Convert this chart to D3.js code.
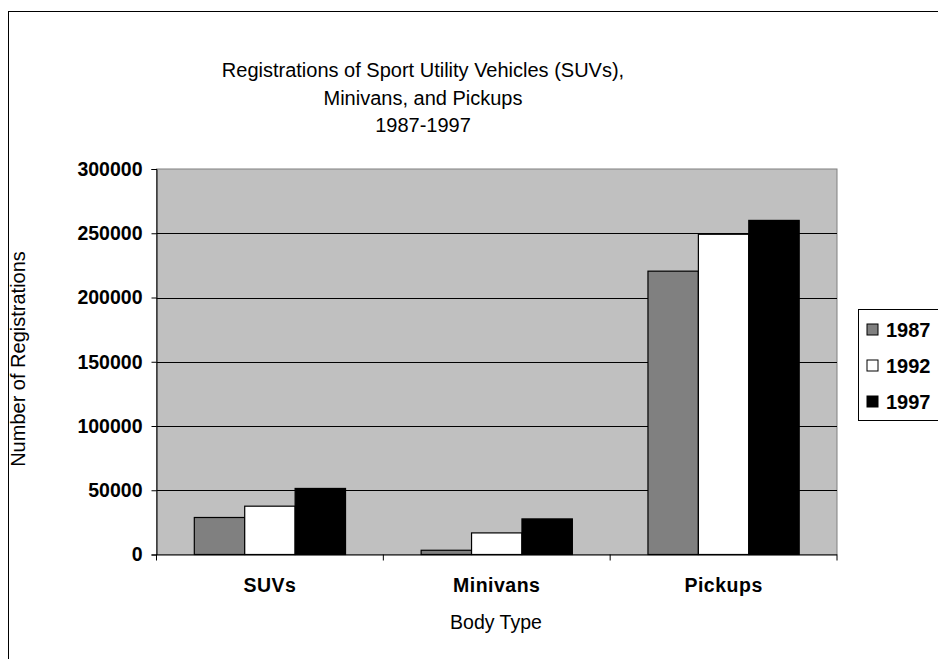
<!DOCTYPE html>
<html>
<head>
<meta charset="utf-8">
<script src="https://cdn.jsdelivr.net/npm/d3@7"></script>
<style>
  body { margin: 0; background: #fff; }
  svg { display: block; font-family: Arial, "Liberation Sans", sans-serif; }
</style>
</head>
<body>
<div id="chart"></div>
<script>
(function () {
  'use strict';

  // data:
  var categories = ["SUVs", "Minivans", "Pickups"];
  var years = ["1987", "1992", "1997"];
  var values1987 = [28800, 3300, 220500];
  var values1992 = [37600, 16800, 249200];
  var values1997 = [51400, 27700, 260000];
  var yTicks = [0, 50000, 100000, 150000, 200000, 250000, 300000];
  var titleLines = [
    "Registrations of Sport Utility Vehicles (SUVs),",
    "Minivans, and Pickups",
    "1987-1997"
  ];

  var series = [
    { year: years[0], values: values1987, color: "#808080" },
    { year: years[1], values: values1992, color: "#ffffff" },
    { year: years[2], values: values1997, color: "#000000" }
  ];

  var width = 938, height = 659;
  var plot = { left: 156.5, top: 169, right: 837, bottom: 554.5 };

  var svg = d3.select("#chart").append("svg")
    .attr("width", width)
    .attr("height", height);

  // outer chart border (runs past the right/bottom edge):
  svg.append("rect")
    .attr("x", 8.5).attr("y", 11.5)
    .attr("width", 960).attr("height", 700)
    .attr("fill", "#fff")
    .attr("stroke", "#000").attr("stroke-width", 1);

  // title:
  svg.append("g").selectAll("text")
    .data(titleLines)
    .join("text")
    .attr("x", 423)
    .attr("y", function (d, i) { return 77 + i * 27.5; })
    .attr("text-anchor", "middle")
    .style("font-size", "20px")
    .text(function (d) { return d; });

  // scales:
  var x0 = d3.scaleBand()
    .domain(categories)
    .range([plot.left, plot.right])
    .paddingInner(0).paddingOuter(0);
  var barW = x0.bandwidth() / 4.5;
  var x1 = d3.scaleBand()
    .domain(years)
    .range([barW * 0.75, barW * 3.75]);
  var y = d3.scaleLinear()
    .domain([0, 300000])
    .range([plot.bottom, plot.top]);

  // plot area:
  svg.append("rect")
    .attr("x", plot.left).attr("y", plot.top)
    .attr("width", plot.right - plot.left)
    .attr("height", plot.bottom - plot.top)
    .attr("fill", "#c0c0c0")
    .attr("stroke", "#808080").attr("stroke-width", 1);

  // gridlines:
  svg.append("g").selectAll("line")
    .data(yTicks.filter(function (t) { return t > 0 && t < 300000; }))
    .join("line")
    .attr("x1", plot.left).attr("x2", plot.right)
    .attr("y1", function (d) { return Math.round(y(d)) + 0.5; })
    .attr("y2", function (d) { return Math.round(y(d)) + 0.5; })
    .attr("stroke", "#000").attr("stroke-width", 1);

  // bars:
  var groups = svg.append("g").selectAll("g")
    .data(series)
    .join("g");
  groups.selectAll("rect")
    .data(function (s) {
      return s.values.map(function (v, i) {
        return { cat: categories[i], year: s.year, value: v, color: s.color };
      });
    })
    .join("rect")
    .attr("x", function (d) { return x0(d.cat) + x1(d.year); })
    .attr("y", function (d) { return y(d.value); })
    .attr("width", x1.bandwidth())
    .attr("height", function (d) { return y(0) - y(d.value); })
    .attr("fill", function (d) { return d.color; })
    .attr("stroke", "#000").attr("stroke-width", 1.2);

  // y axis:
  var yAxis = d3.axisLeft(y)
    .tickValues(yTicks)
    .tickSize(5)
    .tickPadding(9)
    .tickFormat(d3.format("d"));
  var yG = svg.append("g")
    .attr("transform", "translate(" + plot.left + ",0)")
    .call(yAxis);
  yG.attr("font-family", null).attr("font-size", null);
  yG.select(".domain").attr("stroke", "#000");
  yG.selectAll("text").style("font-size", "19.5px").style("font-weight", "bold");

  // x axis:
  var xAxis = d3.axisBottom(x0)
    .tickSize(0)
    .tickPadding(24);
  var xG = svg.append("g")
    .attr("transform", "translate(0," + plot.bottom + ")")
    .call(xAxis);
  xG.attr("font-family", null).attr("font-size", null);
  xG.select(".domain").attr("d", "M" + plot.left + ",0.5H" + plot.right).attr("stroke", "#000");
  xG.selectAll("text").style("font-size", "19.5px").style("font-weight", "bold")
    .style("letter-spacing", "0.5px");
  // category boundary ticks:
  xG.append("g").selectAll("line")
    .data(categories.concat(["end"]))
    .join("line")
    .attr("x1", function (d, i) { return plot.left + i * x0.bandwidth(); })
    .attr("x2", function (d, i) { return plot.left + i * x0.bandwidth(); })
    .attr("y1", 0).attr("y2", 6)
    .attr("stroke", "#000");

  // axis titles:
  svg.append("text")
    .attr("x", 496).attr("y", 629)
    .attr("text-anchor", "middle")
    .style("font-size", "19.5px")
    .text("Body Type");
  svg.append("text")
    .attr("transform", "translate(25,359) rotate(-90)")
    .attr("text-anchor", "middle")
    .style("font-size", "20px")
    .text("Number of Registrations");

  // legend:
  var legendG = svg.append("g").attr("transform", "translate(858.5,309.5)");
  legendG.append("rect")
    .attr("width", 100).attr("height", 111)
    .attr("fill", "#fff").attr("stroke", "#000");
  var item = legendG.selectAll("g.item")
    .data(series)
    .join("g")
    .attr("class", "item")
    .attr("transform", function (d, i) { return "translate(8," + (20 + i * 36) + ")"; });
  item.append("rect")
    .attr("x", 0.5).attr("y", -5.5)
    .attr("width", 11).attr("height", 11)
    .attr("fill", function (d) { return d.color; })
    .attr("stroke", "#000");
  item.append("text")
    .attr("x", 19.5).attr("y", 7.5)
    .style("font-size", "20px").style("font-weight", "bold")
    .text(function (d) { return d.year; });
})();
</script>
</body>
</html>
